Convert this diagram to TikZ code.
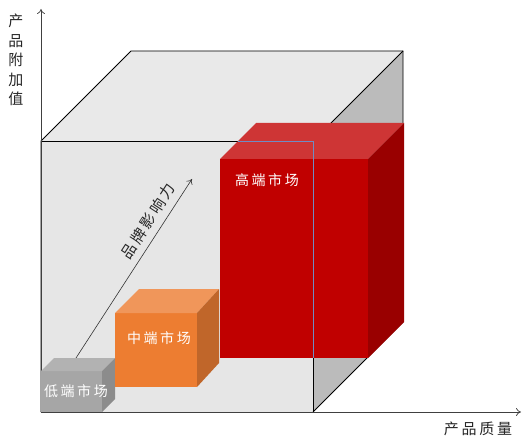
\documentclass[tikz,border=0pt]{standalone}
\usepackage{fontspec}
\setmainfont{Noto Sans CJK SC}[LetterSpace=18]
\usetikzlibrary{arrows.meta}
\definecolor{cubefront}{HTML}{E6E6E6}
\definecolor{cubetop}{HTML}{E9E9E9}
\definecolor{cuberight}{HTML}{BBBBBB}
\definecolor{lowfront}{HTML}{A6A6A6}
\definecolor{lowtop}{HTML}{B2B2B2}
\definecolor{lowright}{HTML}{8C8C8C}
\definecolor{midfront}{HTML}{ED7D31}
\definecolor{midtop}{HTML}{F0965A}
\definecolor{midright}{HTML}{C0662A}
\definecolor{highfront}{HTML}{C00000}
\definecolor{hightop}{HTML}{CE3535}
\definecolor{highright}{HTML}{990000}
\definecolor{edgeblue}{HTML}{6F8CC4}
\begin{document}
\begin{tikzpicture}[x=1pt,y=-1pt,
  axis/.style={draw=black!75,line width=0.7pt,-{To[length=5pt,width=8pt]}},
  edge/.style={draw=black,line width=0.9pt},
  lbl/.style={font=\fontsize{14}{16}\selectfont,text=white,inner sep=0pt},
  axlbl/.style={font=\fontsize{15}{19.5}\selectfont,text=black!85,inner sep=0pt,align=center}]
\useasboundingbox (0,0) rectangle (523,436);
% cube corners
\coordinate (F1) at (41,141); \coordinate (F2) at (313,141);
\coordinate (F3) at (313,412); \coordinate (F4) at (41,412);
\coordinate (B1) at (131,51); \coordinate (B2) at (403,51);
\coordinate (B3) at (403,322);
% cube faces
\fill[cubefront] (F1) -- (F2) -- (F3) -- (F4) -- cycle;
\fill[cubetop] (F1) -- (B1) -- (B2) -- (F2) -- cycle;
\fill[cuberight] (F2) -- (B2) -- (B3) -- (F3) -- cycle;
\draw[edge] (F4) -- (F1) -- (B1) -- (B2) -- (B3) -- (F3);
\draw[edge] (F1) -- (F2) -- (F3) -- (F4);
\draw[edge] (F2) -- (B2);
% axes
\coordinate (O) at (41,412);
\coordinate (Ytop) at (41,9);
\coordinate (Xend) at (521,412);
\draw[axis] (O) -- (Ytop);
\draw[axis] (O) -- (Xend);
\node[axlbl] (ylab) at (16,60) {产\\品\\附\\加\\值};
\node[axlbl] (xlab) at (478,429) {产品质量};
% diagonal arrow
\coordinate (Dend) at (192,179);
\draw[draw=black!80,line width=0.6pt,-{To[length=5pt,width=7pt]}] (O) -- (Dend);
\node[axlbl,rotate=57] (dlab) at (148,221) {品牌影响力};
% low box
\fill[lowfront] (41,371) rectangle (102,412);
\fill[lowtop] (41,371) -- (54,358) -- (115,358) -- (102,371) -- cycle;
\fill[lowright] (102,371) -- (115,358) -- (115,399) -- (102,412) -- cycle;
\node[lbl] (low) at (76,391) {低端市场};
% mid box
\fill[midfront] (115,313) rectangle (197,387);
\fill[midtop] (115,313) -- (139,289) -- (219,289) -- (197,313) -- cycle;
\fill[midright] (197,313) -- (219,289) -- (219,363) -- (197,387) -- cycle;
\node[lbl] (mid) at (159,338) {中端市场};
% high box
\fill[highfront] (220,159) rectangle (368,358);
\fill[hightop] (220,159) -- (256,123) -- (404,123) -- (368,159) -- cycle;
\fill[highright] (368,159) -- (404,123) -- (404,322) -- (368,358) -- cycle;
\node[lbl] (high) at (267,180) {高端市场};
% cube edges seen through the high box
\draw[edgeblue,line width=0.8pt] (238,141) -- (F2) -- (313,358);
\end{tikzpicture}
\end{document}
